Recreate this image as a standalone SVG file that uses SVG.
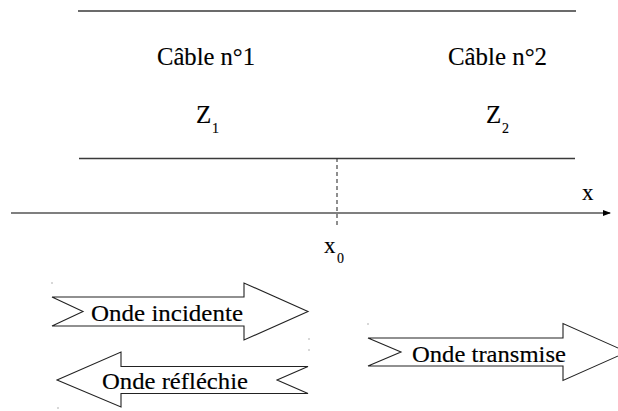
<svg xmlns="http://www.w3.org/2000/svg" width="618" height="411" viewBox="0 0 618 411">
<style>
text{font-family:'Liberation Serif','DejaVu Serif',serif;fill:#000;stroke:#000;stroke-width:0.15}
.cable{stroke:#3a3a3a;stroke-width:1.3;fill:none}
.wave{fill:#fff;stroke:#222;stroke-width:1.1;stroke-linejoin:miter}
.dot{fill:#666}
</style>
<defs>
<marker id="ah" markerWidth="8" markerHeight="6" refX="7" refY="3" orient="auto" markerUnits="userSpaceOnUse">
<path d="M0,0 L8,3 L0,6 Z" fill="#000"/>
</marker>
</defs>
<rect width="618" height="411" fill="#fff"/>

<g id="cable-lines">
<line class="cable" x1="78" y1="11" x2="576" y2="11"/>
<line class="cable" x1="79" y1="158.5" x2="575" y2="158.5"/>
</g>

<g id="cable1">
<text x="157" y="65" font-size="25" textLength="98" lengthAdjust="spacingAndGlyphs">Câble n°1</text>
<text x="196" y="123" font-size="25">Z</text>
<text x="212" y="132.5" font-size="14">1</text>
</g>

<g id="cable2">
<text x="448" y="65" font-size="25" textLength="99" lengthAdjust="spacingAndGlyphs">Câble n°2</text>
<text x="486" y="123" font-size="25">Z</text>
<text x="502" y="133" font-size="14">2</text>
</g>

<g id="connectors">
<line x1="11" y1="213" x2="610" y2="213" stroke="#000" stroke-width="1.1" marker-end="url(#ah)"/>
<line x1="337" y1="158" x2="337" y2="226" stroke="#333" stroke-width="1.1" stroke-dasharray="4,3"/>
</g>

<g id="axis-labels">
<text x="582" y="200" font-size="23">x</text>
<text x="324" y="253" font-size="23">x</text>
<text x="337" y="263" font-size="14">0</text>
</g>

<g id="onde-incidente">
<path class="wave" d="M52,297 L244,297 L244,283 L308,311.5 L244,340 L244,326 L52,326 L83,311.5 Z"/>
<text x="91" y="321" font-size="23" textLength="152" lengthAdjust="spacingAndGlyphs">Onde incidente</text>
</g>

<g id="onde-reflechie">
<path class="wave" d="M57,380 L121,352 L121,366.5 L308,366.5 L277,380 L308,393.5 L121,393.5 L121,407 Z"/>
<text x="102" y="389" font-size="23" textLength="146" lengthAdjust="spacingAndGlyphs">Onde réfléchie</text>
</g>

<g id="onde-transmise">
<path class="wave" d="M368,338 L563,338 L563,323.5 L627,352 L563,380.5 L563,366 L368,366 L401,352 Z"/>
<text x="412" y="362" font-size="23" textLength="154" lengthAdjust="spacingAndGlyphs">Onde transmise</text>
</g>

<g id="marks">
<rect class="dot" x="51.5" y="282.5" width="1" height="1"/>
<rect class="dot" x="308.5" y="338.5" width="1" height="1"/>
<rect class="dot" x="308.5" y="349.5" width="1" height="1"/>
<rect class="dot" x="57.5" y="407.5" width="1" height="1"/>
<rect class="dot" x="367.5" y="323.5" width="1" height="1"/>
</g>
</svg>
